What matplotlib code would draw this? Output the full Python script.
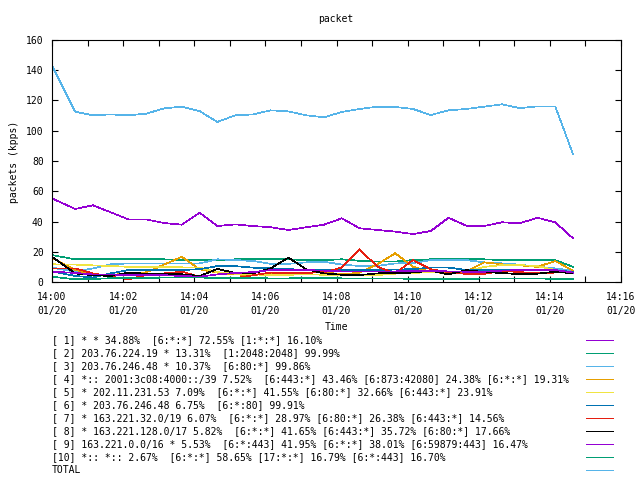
import matplotlib
matplotlib.use('Agg')
import matplotlib.pyplot as plt
from matplotlib.lines import Line2D

# sample times (hh:mm:ss on 01/20)
times = ['14:00:00', '14:00:39', '14:01:09', '14:01:39', '14:02:09', '14:02:39',
         '14:03:09', '14:03:39', '14:04:09', '14:04:39', '14:05:09', '14:05:39',
         '14:06:09', '14:06:39', '14:07:09', '14:07:39', '14:08:09', '14:08:39',
         '14:09:09', '14:09:39', '14:10:09', '14:10:39', '14:11:09', '14:11:39',
         '14:12:09', '14:12:39', '14:13:09', '14:13:39', '14:14:09', '14:14:39']

s1 = [55.3, 48.3, 50.7, 46.1, 41.4, 41.4, 39.0, 37.9, 45.8, 37.0,
      38.1, 37.0, 36.2, 34.4, 36.2, 37.9, 42.1, 35.5, 34.4, 33.3,
      31.7, 33.7, 42.5, 37.2, 37.0, 39.5, 38.8, 42.5, 39.5, 28.9]
s2 = [17.8, 15.0, 15.0, 15.0, 15.0, 15.0, 15.0, 14.5, 14.5, 14.5,
      15.0, 15.0, 15.0, 15.0, 14.5, 14.5, 15.0, 14.0, 13.5, 13.5,
      14.5, 15.0, 15.0, 15.0, 15.0, 14.5, 14.5, 14.5, 14.5, 10.0]
s3 = [9.5, 6.8, 9.0, 11.7, 12.3, 12.3, 12.3, 12.3, 12.3, 15.0,
      14.5, 13.9, 12.0, 12.0, 13.0, 13.4, 11.5, 10.6, 10.6, 12.3,
      12.5, 14.5, 14.5, 14.5, 13.0, 12.3, 11.5, 10.1, 9.0, 7.5]
s4 = [16.0, 8.0, 5.0, 4.5, 6.0, 6.4, 11.5, 16.7, 8.4, 6.2,
      5.0, 4.5, 6.0, 5.5, 6.0, 6.5, 5.0, 6.2, 11.7, 19.0,
      10.1, 6.8, 5.5, 6.8, 13.0, 11.7, 11.0, 10.0, 13.9, 7.5]
s5 = [11.7, 11.5, 11.0, 10.6, 10.0, 10.0, 9.7, 9.7, 9.5, 6.5,
      5.5, 5.0, 4.6, 4.8, 5.0, 4.8, 4.8, 4.6, 4.6, 5.5,
      6.0, 6.5, 7.0, 7.0, 10.0, 11.2, 11.2, 10.5, 8.0, 6.0]
s6 = [7.0, 4.0, 3.0, 5.7, 7.9, 7.9, 7.9, 7.9, 8.5, 10.5,
      10.5, 9.5, 9.0, 8.5, 8.0, 8.0, 8.0, 8.0, 8.0, 8.2,
      8.5, 9.5, 9.5, 8.0, 7.9, 7.9, 7.9, 7.9, 7.5, 6.8]
s7 = [9.0, 9.0, 5.7, 3.5, 1.8, 4.6, 5.7, 6.8, 3.5, 2.4,
      2.4, 4.5, 6.2, 6.0, 6.0, 6.5, 9.5, 21.6, 10.1, 5.7,
      14.5, 8.4, 6.5, 5.3, 5.3, 7.5, 6.5, 6.0, 6.2, 6.2]
s8 = [16.7, 5.7, 4.5, 4.0, 6.2, 5.5, 5.5, 5.1, 4.0, 8.6,
      6.0, 5.7, 9.0, 16.1, 8.4, 5.7, 4.8, 4.6, 5.7, 6.0,
      6.2, 7.5, 5.0, 7.9, 6.5, 6.0, 5.1, 5.5, 6.8, 5.7]
s9 = [6.8, 6.0, 5.0, 5.0, 4.5, 4.5, 4.5, 4.0, 3.5, 5.0,
      6.0, 6.5, 7.9, 7.9, 7.9, 7.5, 7.0, 7.0, 7.0, 7.0,
      7.5, 7.5, 7.0, 6.8, 6.8, 7.5, 7.9, 7.9, 7.9, 6.2]
s10 = [3.5, 1.8, 2.0, 2.5, 2.5, 2.5, 3.0, 3.0, 3.0, 2.5,
       2.5, 2.5, 2.4, 2.4, 2.8, 2.8, 2.4, 2.4, 2.4, 2.4,
       2.0, 1.8, 1.8, 1.8, 2.4, 2.4, 2.4, 2.4, 2.0, 1.8]
total = [143.0, 112.6, 110.2, 110.8, 110.2, 111.3, 114.8, 115.9, 113.0, 105.8,
         110.2, 110.8, 113.5, 112.8, 110.2, 108.9, 112.4, 114.4, 115.9, 115.7,
         114.4, 110.4, 113.5, 114.4, 115.9, 117.5, 115.0, 116.1, 116.1, 84.6]

labels = ['[ 1] * * 34.88%  [6:*:*] 72.55% [1:*:*] 16.10%',
          '[ 2] 203.76.224.19 * 13.31%  [1:2048:2048] 99.99%',
          '[ 3] 203.76.246.48 * 10.37%  [6:80:*] 99.86%',
          '[ 4] *:: 2001:3c08:4000::/39 7.52%  [6:443:*] 43.46% [6:873:42080] 24.38% [6:*:*] 19.31%',
          '[ 5] * 202.11.231.53 7.09%  [6:*:*] 41.55% [6:80:*] 32.66% [6:443:*] 23.91%',
          '[ 6] * 203.76.246.48 6.75%  [6:*:80] 99.91%',
          '[ 7] * 163.221.32.0/19 6.07%  [6:*:*] 28.97% [6:80:*] 26.38% [6:443:*] 14.56%',
          '[ 8] * 163.221.128.0/17 5.82%  [6:*:*] 41.65% [6:443:*] 35.72% [6:80:*] 17.66%',
          '[ 9] 163.221.0.0/16 * 5.53%  [6:*:443] 41.95% [6:*:*] 38.01% [6:59879:443] 16.47%',
          '[10] *:: *:: 2.67%  [6:*:*] 58.65% [17:*:*] 16.79% [6:*:443] 16.70%',
          'TOTAL']
series = [s1, s2, s3, s4, s5, s6, s7, s8, s9, s10, total]
colors = ['#9400d3', '#009e73', '#56b4e9', '#e69f00', '#f0e442', '#0072b2',
          '#e51e10', '#000000', '#9400d3', '#009e73', '#56b4e9']

plt.rcParams['font.family'] = ['DejaVu Sans Mono']
plt.rcParams['font.size'] = 7


def to_min(t):
    h, m, s = t.split(':')
    return (int(h) - 14) * 60 + int(m) + int(s) / 60.0


x = [to_min(t) for t in times]

W, H = 640.0, 480.0
fig = plt.figure(figsize=(6.4, 4.8), dpi=100)
ax = fig.add_axes([52 / W, 1 - 282 / H, 569 / W, 242 / H])

# thin 1px aliased lines, like the gnuplot png terminal
for ys, c in zip(series, colors):
    ax.plot(x, ys, color=c, lw=0.5, antialiased=False)

ax.set_xlim(0, 16)
ax.set_ylim(0, 160)
ax.set_xticks(range(0, 17))
ax.set_xticklabels(['14:%02d\n01/20' % m if m % 2 == 0 else '' for m in range(0, 17)],
                   linespacing=1.55)
ax.set_yticks(range(0, 161, 20))
ax.tick_params(direction='in', length=4, width=0.8, top=True, right=True)
ax.tick_params(axis='x', pad=7)
ax.tick_params(axis='y', pad=6)
for sp in ax.spines.values():
    sp.set_linewidth(0.8)

fig.text(336 / W, 1 - 19 / H, 'packet', ha='center', va='center')
fig.text(14 / W, 1 - 162 / H, 'packets (kpps)', rotation=90, ha='center', va='center')
fig.text(336 / W, 1 - 327 / H, 'Time', ha='center', va='center')

# key below the plot, gnuplot style
for i, (lab, c) in enumerate(zip(labels, colors)):
    yy = 1 - (340 + 13 * i) / H
    fig.text(52 / W, yy, lab, ha='left', va='center')
    fig.add_artist(Line2D([586 / W, 613 / W], [yy, yy], color=c, lw=0.5,
                          antialiased=False, transform=fig.transFigure))

fig.savefig('out.png', dpi=100)
